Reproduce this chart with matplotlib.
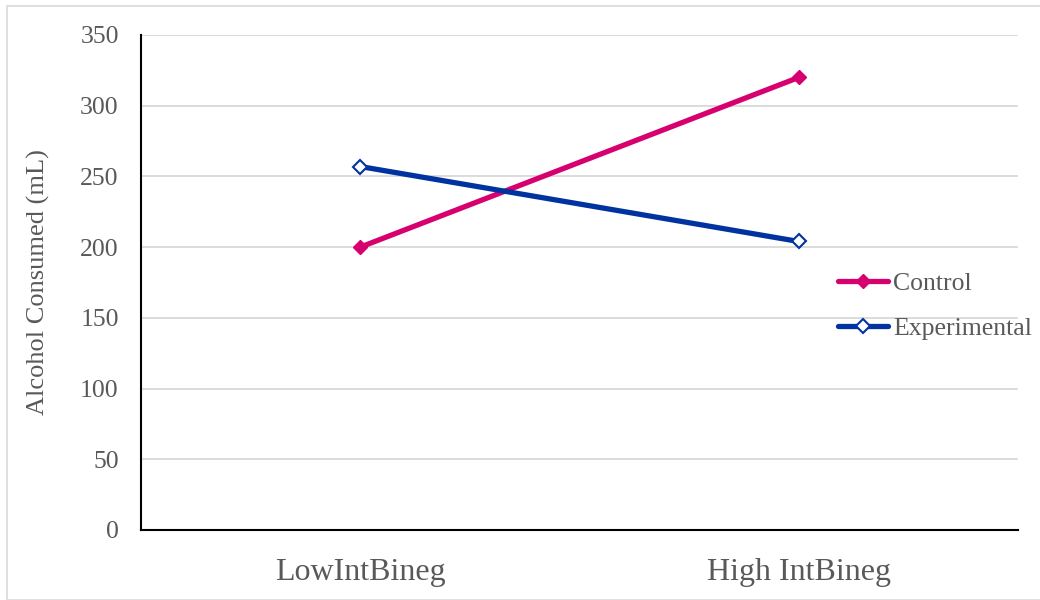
import matplotlib.pyplot as plt
from matplotlib.patches import Rectangle

# data
categories = ["LowIntBineg", "High IntBineg"]
control = [200, 320]
experimental = [257, 204]
y_ticks = [0, 50, 100, 150, 200, 250, 300, 350]

plt.rcParams['font.family'] = ['Liberation Serif', 'DejaVu Serif']
text_color = '#595959'

fig = plt.figure(figsize=(10.4, 6), dpi=100)
ax = fig.add_axes([141 / 1040, 1 - 530 / 600, 877 / 1040, 495 / 600])

x = list(range(len(categories)))
ax.plot(x, control, color='#D6006E', lw=3.8, marker='D', ms=7,
        mfc='#D6006E', mec='#D6006E', label='Control', solid_capstyle='round')
ax.plot(x, experimental, color='#0033A0', lw=3.8, marker='D', ms=7,
        mfc='white', mec='#0033A0', mew=1.5, label='Experimental', solid_capstyle='round')

ax.set_xlim(-0.5, 1.5)
ax.set_ylim(0, 350)
ax.set_yticks(y_ticks)
ax.set_xticks(x)
ax.set_xticklabels(categories, fontsize=23, color=text_color)
ax.tick_params(axis='y', labelsize=18.5, colors=text_color, length=0, pad=16)
ax.tick_params(axis='x', length=0, pad=20)
ax.yaxis.grid(True, color='#D9D9D9', lw=1.3)
ax.set_axisbelow(True)
for side in ['top', 'right']:
    ax.spines[side].set_visible(False)
ax.spines['left'].set_linewidth(1.5)
ax.spines['bottom'].set_linewidth(1.5)
ax.set_ylabel("Alcohol Consumed (mL)", fontsize=19, color=text_color, labelpad=22)

leg = ax.legend(loc='upper left', bbox_to_anchor=(0.768, 0.568), frameon=False,
                fontsize=18.5, handlelength=1.95, handletextpad=0.2, labelspacing=0.85,
                labelcolor=text_color)

# outer chart border
fig.patches.append(Rectangle((7 / 1040, 0), 1.1, 1 - 6 / 600, transform=fig.transFigure,
                             fill=False, ec='#D9D9D9', lw=1.2))

fig.savefig("out.png", dpi=100)
